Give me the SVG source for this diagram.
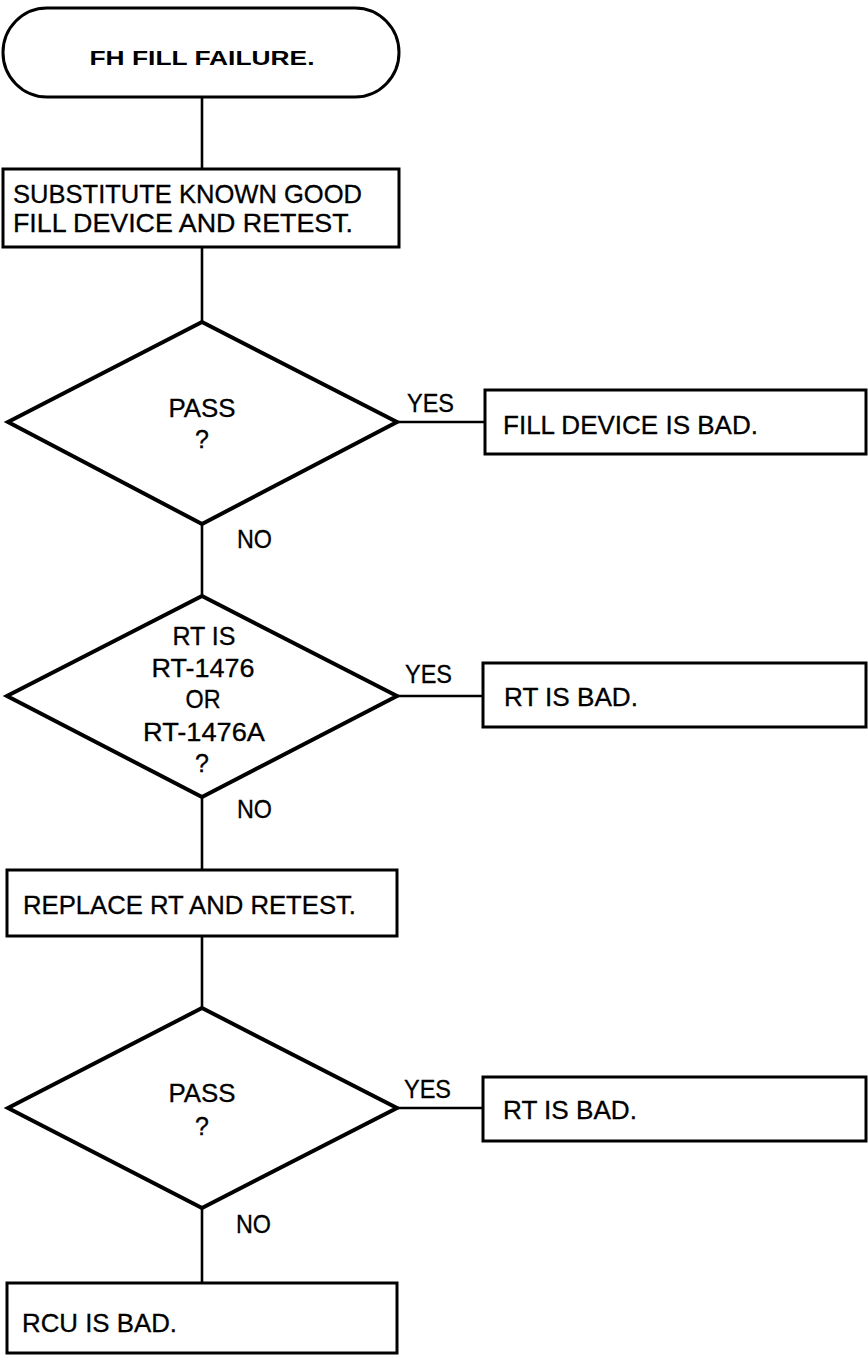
<svg xmlns="http://www.w3.org/2000/svg" width="868" height="1355" viewBox="0 0 868 1355">
<style>
  .shape { fill: #fff; stroke: #000; stroke-width: 3; stroke-linejoin: miter; }
  .dia { fill: #fff; stroke: #000; stroke-width: 4; stroke-linejoin: miter; }
  .conn { stroke: #000; stroke-width: 2.6; fill: none; }
  text { font-family: "Liberation Sans", Arial, Helvetica, sans-serif; font-size: 25px; fill: #000; stroke: #000; stroke-width: 0.3; }
  .c { text-anchor: middle; }
  .b { font-weight: bold; font-size: 21px; stroke-width: 0; }
</style>
<rect width="868" height="1355" fill="#fff"/>
<g id="connectors">
  <line class="conn" x1="202" y1="97" x2="202" y2="169"/>
  <line class="conn" x1="202" y1="247" x2="202" y2="322"/>
  <line class="conn" x1="202" y1="524" x2="202" y2="596"/>
  <line class="conn" x1="202" y1="797" x2="202" y2="870"/>
  <line class="conn" x1="202" y1="936" x2="202" y2="1008"/>
  <line class="conn" x1="202" y1="1208" x2="202" y2="1283"/>
  <line class="conn" x1="397" y1="422" x2="485" y2="422"/>
  <line class="conn" x1="397" y1="696" x2="483" y2="696"/>
  <line class="conn" x1="397" y1="1108" x2="483" y2="1108"/>
  <text x="407" y="412" textLength="47" lengthAdjust="spacingAndGlyphs">YES</text>
  <text x="237" y="548" textLength="35" lengthAdjust="spacingAndGlyphs">NO</text>
  <text x="405" y="683" textLength="47" lengthAdjust="spacingAndGlyphs">YES</text>
  <text x="237" y="818" textLength="35" lengthAdjust="spacingAndGlyphs">NO</text>
  <text x="404" y="1098" textLength="47" lengthAdjust="spacingAndGlyphs">YES</text>
  <text x="236" y="1233" textLength="35" lengthAdjust="spacingAndGlyphs">NO</text>
</g>
<g id="start">
  <rect class="shape" x="3" y="8" width="396" height="89" rx="44" ry="44.5"/>
  <text class="c b" x="202" y="65" textLength="225" lengthAdjust="spacingAndGlyphs">FH FILL FAILURE.</text>
</g>
<g id="substitute">
  <rect class="shape" x="3" y="169" width="396" height="78"/>
  <text x="13" y="203" textLength="349" lengthAdjust="spacingAndGlyphs">SUBSTITUTE KNOWN GOOD</text>
  <text x="13" y="232" textLength="340" lengthAdjust="spacingAndGlyphs">FILL DEVICE AND RETEST.</text>
</g>
<g id="pass1">
  <polygon class="dia" points="202,322 397,422 202,524 8,422"/>
  <text class="c" x="202" y="417" textLength="67" lengthAdjust="spacingAndGlyphs">PASS</text>
  <text class="c" x="202" y="448">?</text>
</g>
<g id="fill-bad">
  <rect class="shape" x="485" y="390" width="381" height="64"/>
  <text x="503" y="434" textLength="255" lengthAdjust="spacingAndGlyphs">FILL DEVICE IS BAD.</text>
</g>
<g id="rt-type">
  <polygon class="dia" points="202,596 397,696 202,797 7,696"/>
  <text class="c" x="204" y="645" textLength="63" lengthAdjust="spacingAndGlyphs">RT IS</text>
  <text class="c" x="203" y="677" textLength="103" lengthAdjust="spacingAndGlyphs">RT-1476</text>
  <text class="c" x="203" y="708" textLength="35" lengthAdjust="spacingAndGlyphs">OR</text>
  <text class="c" x="204" y="741" textLength="122" lengthAdjust="spacingAndGlyphs">RT-1476A</text>
  <text class="c" x="202" y="772">?</text>
</g>
<g id="rt-bad1">
  <rect class="shape" x="483" y="663" width="383" height="64"/>
  <text x="504" y="706" textLength="134" lengthAdjust="spacingAndGlyphs">RT IS BAD.</text>
</g>
<g id="replace">
  <rect class="shape" x="7" y="870" width="390" height="66"/>
  <text x="23" y="914" textLength="333" lengthAdjust="spacingAndGlyphs">REPLACE RT AND RETEST.</text>
</g>
<g id="pass2">
  <polygon class="dia" points="202,1008 397,1108 202,1208 8,1108"/>
  <text class="c" x="202" y="1102" textLength="67" lengthAdjust="spacingAndGlyphs">PASS</text>
  <text class="c" x="202" y="1135">?</text>
</g>
<g id="rt-bad2">
  <rect class="shape" x="483" y="1077" width="383" height="64"/>
  <text x="503" y="1119" textLength="134" lengthAdjust="spacingAndGlyphs">RT IS BAD.</text>
</g>
<g id="rcu-bad">
  <rect class="shape" x="7" y="1283" width="390" height="70"/>
  <text x="22" y="1332" textLength="155" lengthAdjust="spacingAndGlyphs">RCU IS BAD.</text>
</g>
</svg>
